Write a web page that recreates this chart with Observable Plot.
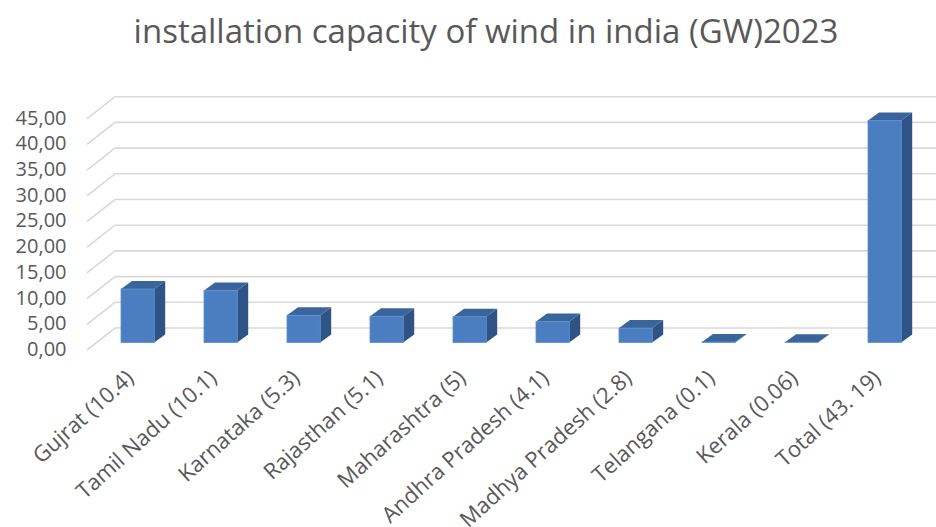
<!DOCTYPE html>
<html><head><meta charset="utf-8">
<script src="https://cdn.jsdelivr.net/npm/d3@7"></script>
<script src="https://cdn.jsdelivr.net/npm/@observablehq/plot@0.6"></script>
<style>
html,body{margin:0;padding:0;background:#fff;overflow:hidden;width:936px;height:527px;}
#title{height:62px;line-height:62px;font-family:"Open Sans";font-size:33px;color:#595959;text-align:center;padding-left:36px;box-sizing:border-box;width:936px;white-space:nowrap;}
#chart svg{display:block;}
</style></head><body>
<div id="title">installation capacity of wind in india (GW)2023</div>
<div id="chart"></div>
<script>
const states = ["Gujrat (10.4)", "Tamil Nadu (10.1)", "Karnataka (5.3)", "Rajasthan (5.1)", "Maharashtra (5)", "Andhra Pradesh (4.1)", "Madhya Pradesh (2.8)", "Telangana (0.1)", "Kerala (0.06)", "Total (43. 19)"];
const capacity = [10.4, 10.1, 5.3, 5.1, 5, 4.1, 2.8, 0.1, 0.06, 43.19];
const yTicks = [0, 5, 10, 15, 20, 25, 30, 35, 40, 45];

const data = states.map((s, i) => ({state: s, value: capacity[i]}));

const FRONT = "#4a7ec0", SIDE = "#2f5385", TOP = "#3a659c", GRID = "#d9d9d9";
const DX = 11, DY = -8; // bar depth in px

const fmt = d3.formatLocale({decimal: ",", thousands: ".", grouping: [3], currency: ["", ""]}).format(".2f");

function walls(index, scales, values, dims) {
  const {y} = scales;
  const left = dims.marginLeft;
  const g = d3.create("svg:g").attr("fill", "none").attr("stroke", GRID).attr("stroke-width", 1.6);
  for (const t of yTicks) {
    const yy = y(t);
    g.append("path").attr("d", `M${left - 25.7},${yy + 7.5}L${left + 2.3},${yy - 14.5}H${dims.width}`);
  }
  return g.node();
}

function blocks(index, scales, values, dims) {
  const {x, y} = scales;
  const bw = x.bandwidth();
  const g = d3.create("svg:g");
  for (const d of data) {
    const x0 = x(d.state), x1 = x0 + bw, yt = y(d.value), yb = y(0);
    g.append("path").attr("fill", SIDE)
      .attr("d", `M${x1},${yt}L${x1 + DX},${yt + DY}L${x1 + DX},${yb + DY}L${x1},${yb}Z`);
    g.append("path").attr("fill", TOP)
      .attr("d", `M${x0},${yt}L${x0 + DX},${yt + DY}L${x1 + DX},${yt + DY}L${x1},${yt}Z`);
  }
  return g.node();
}

const plot = Plot.plot({
  width: 936,
  height: 465,
  marginLeft: 112.7,
  marginRight: 26.5,
  marginTop: 49.2,
  marginBottom: 184.5,
  x: {type: "band", domain: states, paddingInner: 0.6, paddingOuter: 0.1, align: 0.5, round: false, axis: null},
  y: {domain: [0, 45], axis: null},
  style: {fontFamily: "Open Sans", color: "#595959", background: "transparent"},
  marks: [
    walls,
    blocks,
    Plot.barY(data, {x: "state", y: "value", fill: FRONT, stroke: "#5b8ed0", strokeWidth: 0.8}),
    Plot.text(yTicks, {y: d => d, text: d => fmt(d), frameAnchor: "left", textAnchor: "end", dx: -46.7, dy: 6.5, fontSize: 20, fill: "#595959"}),
    Plot.text(data, {x: "state", y: d => 0, text: "state", rotate: -42, textAnchor: "end", lineAnchor: "bottom", dx: -3, dy: 37, fontSize: 22, fill: "#595959"})
  ]
});
document.getElementById("chart").appendChild(plot);
</script>
</body></html>
